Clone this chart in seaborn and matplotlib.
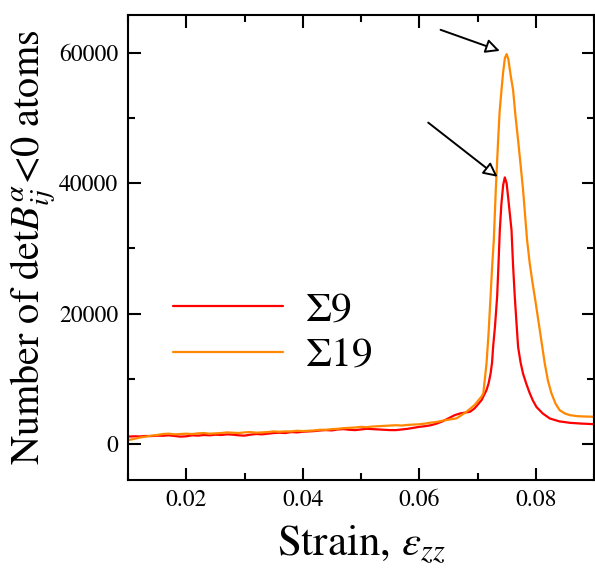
import numpy as np
import pandas as pd
import matplotlib
matplotlib.use("Agg")
import matplotlib.pyplot as plt
import seaborn as sns
from matplotlib.ticker import MultipleLocator

# ---- data ----
strain_s9 = [0.010, 0.011, 0.012, 0.013, 0.014, 0.015, 0.016, 0.017, 0.018, 0.019,
             0.020, 0.021, 0.022, 0.023, 0.024, 0.025, 0.026, 0.027, 0.028, 0.029,
             0.030, 0.031, 0.032, 0.033, 0.034, 0.035, 0.036, 0.037, 0.038, 0.039,
             0.040, 0.041, 0.042, 0.043, 0.044, 0.045, 0.046, 0.047, 0.048, 0.049,
             0.050, 0.051, 0.052, 0.053, 0.054, 0.055, 0.056, 0.057, 0.058, 0.059,
             0.060, 0.061, 0.062, 0.063, 0.064, 0.0661, 0.0670,
             0.0687, 0.0695, 0.0707, 0.07155, 0.0719, 0.07224, 0.0725, 0.07268, 0.0730,
             0.07337, 0.0736, 0.07383, 0.0741, 0.0744, 0.07469, 0.0750, 0.0753, 0.07584,
             0.0761, 0.0764, 0.0767, 0.07697, 0.0774, 0.07782, 0.0784, 0.07897, 0.0795,
             0.08012, 0.0812, 0.0824, 0.0840, 0.08583, 0.0878, 0.0898]
count_s9 = [1150, 1200, 1180, 1250, 1230, 1300, 1280, 1350, 1250, 1150,
            1200, 1350, 1300, 1400, 1350, 1450, 1400, 1500, 1450, 1350,
            1300, 1450, 1550, 1500, 1600, 1700, 1750, 1700, 1850, 1800,
            1900, 1950, 2000, 2100, 2150, 2100, 2250, 2300, 2200, 2150,
            2250, 2350, 2300, 2250, 2200, 2150, 2150, 2250, 2350, 2500,
            2650, 2750, 2900, 3150, 3500, 4450, 4700,
            4960, 5480, 6750, 8300, 9300, 10800, 12500, 14900, 18000,
            22600, 27500, 32800, 36800, 39700, 40900, 40000, 37500, 32800,
            27500, 22600, 18500, 14900, 12500, 10800, 9200, 7800, 6700,
            5700, 4700, 3940, 3500, 3270, 3150, 3070]

strain_s19 = [0.010, 0.011, 0.012, 0.013, 0.014, 0.015, 0.016, 0.017, 0.018, 0.019,
              0.020, 0.021, 0.022, 0.023, 0.024, 0.025, 0.026, 0.027, 0.028, 0.029,
              0.030, 0.031, 0.032, 0.033, 0.034, 0.035, 0.036, 0.037, 0.038, 0.039,
              0.040, 0.041, 0.042, 0.043, 0.044, 0.045, 0.046, 0.047, 0.048, 0.049,
              0.050, 0.051, 0.052, 0.053, 0.054, 0.055, 0.056, 0.057, 0.058, 0.059,
              0.060, 0.061, 0.062, 0.063, 0.064, 0.0664, 0.0681,
              0.0695, 0.0707, 0.0710, 0.07155, 0.0719, 0.07224, 0.0725, 0.0728, 0.07314,
              0.07354, 0.0738, 0.07412, 0.0744, 0.0747, 0.0750, 0.0753, 0.0757, 0.07611,
              0.0765, 0.07697, 0.0774, 0.07782, 0.07851, 0.07897, 0.0794, 0.07983,
              0.08069, 0.08154, 0.0821, 0.08269, 0.0834, 0.08411, 0.0850, 0.08583,
              0.0870, 0.0880, 0.0898]
count_s19 = [600, 800, 1000, 1150, 1300, 1400, 1550, 1600, 1500, 1550,
             1600, 1550, 1650, 1700, 1600, 1650, 1700, 1800, 1750, 1700,
             1800, 1850, 1750, 1800, 1850, 1950, 1900, 1950, 1950, 2050,
             2000, 2050, 2100, 2200, 2200, 2300, 2350, 2450, 2500, 2550,
             2650, 2600, 2700, 2750, 2800, 2850, 2900, 2850, 2950, 3000,
             3050, 3150, 3300, 3400, 3600, 3950, 4950,
             6000, 7300, 7800, 12400, 17000, 22600, 27000, 31300, 39000,
             46600, 51000, 54300, 57000, 59200, 59800, 59000, 56500, 54300,
             50500, 46600, 42800, 39000, 31300, 27700, 25000, 22600,
             17500, 12400, 9700, 7800, 6200, 5200, 4700, 4450,
             4300, 4250, 4200]

labels = ["Σ9", "Σ19"]
colors = ["#ff0000", "#ff8800"]

df = pd.concat([
    pd.DataFrame({"strain": strain_s9, "count": count_s9, "series": labels[0]}),
    pd.DataFrame({"strain": strain_s19, "count": count_s19, "series": labels[1]}),
])

sns.set_style("ticks")
plt.rcParams["font.family"] = ["STIXGeneral", "DejaVu Serif"]
plt.rcParams["mathtext.fontset"] = "stix"
for k in ["text.color", "axes.labelcolor", "xtick.color", "ytick.color", "axes.edgecolor"]:
    plt.rcParams[k] = "black"

fig = plt.figure(figsize=(5.95, 5.71), dpi=100)
ax = fig.add_axes([128 / 595, 1 - 480 / 571, 466 / 595, 465 / 571])

sns.lineplot(data=df, x="strain", y="count", hue="series", palette=colors,
             estimator=None, sort=True, linewidth=1.6, ax=ax)

ax.set_xlim(0.01, 0.09)
ax.set_ylim(-5500, 65800)
ax.xaxis.set_minor_locator(MultipleLocator(0.01))
ax.yaxis.set_major_locator(MultipleLocator(20000))
ax.yaxis.set_minor_locator(MultipleLocator(10000))
ax.set_xticks([0.02, 0.04, 0.06, 0.08])
ax.set_xticklabels(["0.02", "0.04", "0.06", "0.08"])

ax.tick_params(which="both", direction="in", top=True, right=True, width=1.5,
               labelsize=17, pad=7)
ax.tick_params(which="major", length=9)
ax.tick_params(which="minor", length=5)
for sp in ax.spines.values():
    sp.set_linewidth(1.5)

ax.set_xlabel(r"Strain, $\varepsilon_{zz}$", fontsize=31, labelpad=9)
ax.set_ylabel(r"Number of det$B_{ij}^{\alpha}$<0 atoms", fontsize=29, labelpad=0)

# arrows pointing at the peaks
ax.annotate("", xy=(0.07383, 60300), xytext=(0.06366, 63530),
            arrowprops=dict(arrowstyle="-|>", fc="white", ec="black", lw=1.4,
                            mutation_scale=21, shrinkA=0, shrinkB=0))
ax.annotate("", xy=(0.07344, 41000), xytext=(0.06154, 49300),
            arrowprops=dict(arrowstyle="-|>", fc="white", ec="black", lw=1.4,
                            mutation_scale=21, shrinkA=0, shrinkB=0))

leg = ax.legend(loc="center left", bbox_to_anchor=(0.033, 0.315), frameon=False,
                fontsize=30, handlelength=2.64, handletextpad=0.55,
                labelspacing=0.2, borderpad=0.2)
for h in leg.get_lines():
    h.set_linewidth(1.6)

fig.savefig("out.png", dpi=100)
